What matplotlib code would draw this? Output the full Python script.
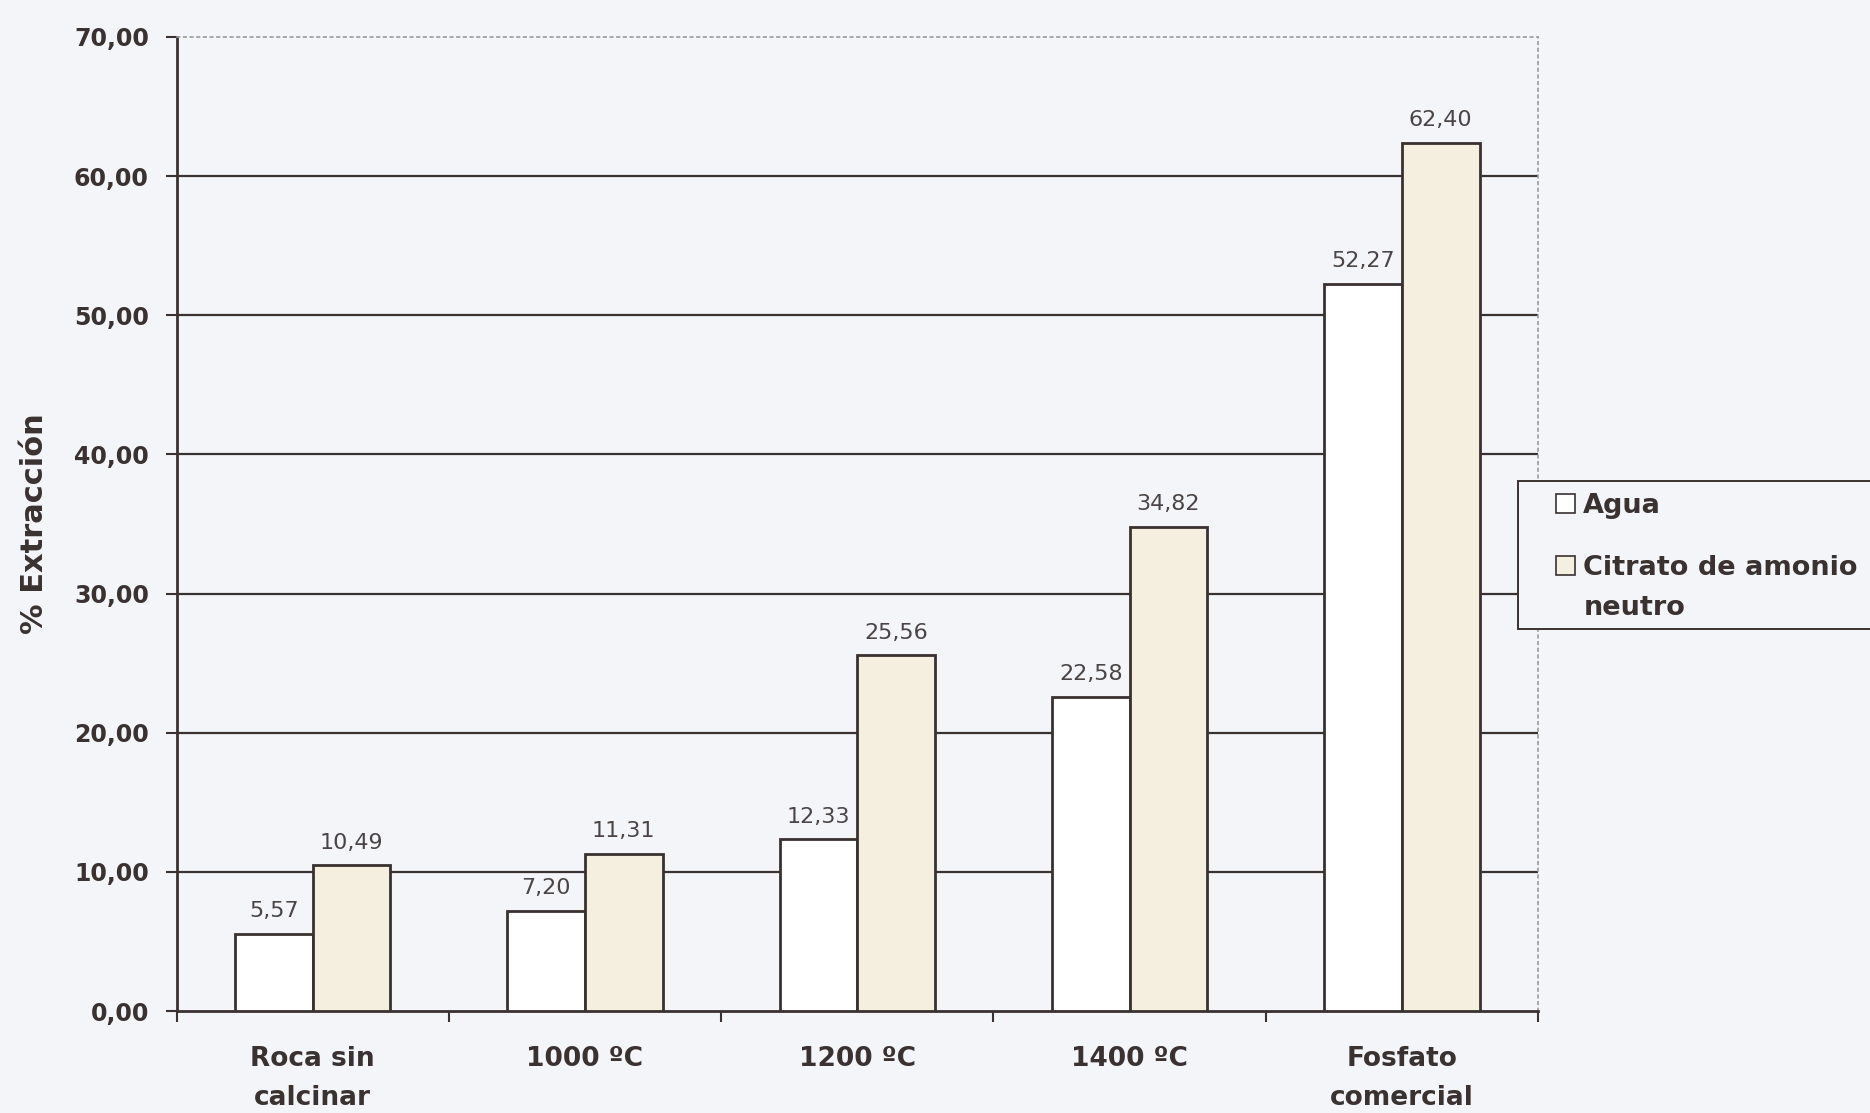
import matplotlib
matplotlib.use("Agg")
import matplotlib.pyplot as plt
import numpy as np
from matplotlib.patches import Patch, Rectangle
from matplotlib.legend_handler import HandlerPatch

categories = ["Roca sin\ncalcinar", "1000 ºC", "1200 ºC", "1400 ºC", "Fosfato\ncomercial"]
agua = [5.57, 7.20, 12.33, 22.58, 52.27]
citrato = [10.49, 11.31, 25.56, 34.82, 62.40]
series_names = ["Agua", "Citrato de amonio\nneutro"]
yticks = [0, 10, 20, 30, 40, 50, 60, 70]

INK = "#3a3131"
BG = "#f3f5f8"
CREAM = "#f4efdf"
NARROW = ["Liberation Sans Narrow", "DejaVu Sans Condensed", "DejaVu Sans"]

fig = plt.figure(figsize=(18.70, 11.13), dpi=100, facecolor=BG)
ax = fig.add_axes([0.0944, 0.0916, 0.7281, 0.8752], facecolor=BG)

x = np.arange(len(categories))
w = 0.285
b1 = ax.bar(x - w / 2, agua, w, color="white", edgecolor=INK, linewidth=2.0, zorder=3)
b2 = ax.bar(x + w / 2, citrato, w, color=CREAM, edgecolor=INK, linewidth=2.0, zorder=3)

def fmt(v):
    return f"{v:.2f}".replace(".", ",")

for bars, vals in ((b1, agua), (b2, citrato)):
    for r, v in zip(bars, vals):
        ax.annotate(fmt(v), (r.get_x() + r.get_width() / 2, v), xytext=(0, 9),
                    textcoords="offset points", ha="center", va="bottom",
                    fontsize=16, color="#4a4444", family=NARROW, zorder=4)

ax.set_xlim(-0.5, len(categories) - 0.5)
ax.set_ylim(0, 70)
ax.set_yticks(yticks)
ax.set_yticklabels([fmt(t) for t in yticks], fontsize=17, fontweight="bold",
                   color=INK, family=NARROW)
ax.yaxis.set_tick_params(length=8, width=1.5, color=INK, pad=12, direction="out")

# horizontal grid lines (solid), skipping the frame at the top
for t in yticks[1:-1]:
    ax.axhline(t, color=INK, linewidth=1.6, zorder=1)

ax.set_xticks(x)
ax.set_xticklabels(categories, fontsize=19, fontweight="bold", color=INK,
                   family=NARROW, linespacing=1.65)
ax.xaxis.set_tick_params(length=0, pad=25)
ax.set_xticks(np.arange(-0.5, len(categories)), minor=True)
ax.xaxis.set_tick_params(which="minor", length=8, width=1.5, color=INK, direction="out")

for s in ("left", "bottom"):
    ax.spines[s].set_color(INK)
    ax.spines[s].set_linewidth(2.0)
for s in ("top", "right"):
    ax.spines[s].set_color("#9a9a9a")
    ax.spines[s].set_linewidth(1.2)
    ax.spines[s].set_linestyle((0, (1.5, 2.5)))

ax.set_ylabel("% Extracción", fontsize=22, fontweight="bold", color=INK,
              family=NARROW, labelpad=18)

# legend box runs off the right edge of the figure
fig.patches.append(Rectangle((0.812, 0.435), 0.25, 0.133, transform=fig.transFigure,
                             facecolor=BG, edgecolor=INK, linewidth=1.4, zorder=5))


def top_line_square(legend, orig_handle, xdescent, ydescent, width, height, fontsize):
    # place the swatch beside the first line of a two-line label
    return Rectangle((-xdescent, -ydescent + 0.85 * fontsize), width, height)


handles = [Patch(facecolor="white", edgecolor=INK, linewidth=1.2),
           Patch(facecolor=CREAM, edgecolor=INK, linewidth=1.2)]
leg = fig.legend(handles, series_names, loc="upper left",
                 bbox_to_anchor=(0.8235, 0.572), borderaxespad=0, frameon=False,
                 handlelength=0.7, handleheight=0.7,
                 handletextpad=0.3, labelspacing=1.35, borderpad=0.6,
                 handler_map={handles[1]: HandlerPatch(patch_func=top_line_square)},
                 prop={"family": NARROW, "weight": "bold", "size": 19.5})
leg.set_zorder(6)
for t in leg.get_texts():
    t.set_color(INK)
    t.set_linespacing(1.7)

fig.savefig("out.png", dpi=100, facecolor=BG)
